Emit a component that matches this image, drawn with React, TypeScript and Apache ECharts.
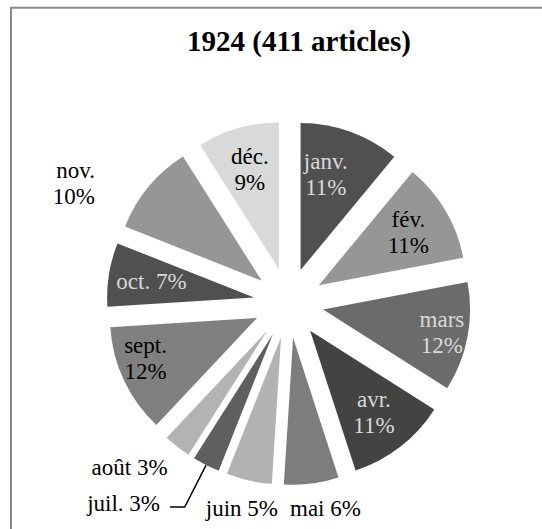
import React, { useEffect, useRef } from 'react';
import * as echarts from 'echarts';

// ---- data ----
const titleText = '1924 (411 articles)';
const months = ['janv.', 'fév.', 'mars', 'avr.', 'mai', 'juin', 'juil.', 'août', 'sept.', 'oct.', 'nov.', 'déc.'];
const shares = [11, 11, 12, 11, 6, 5, 3, 3, 12, 7, 10, 9];

// ---- styles ----
const sliceColors = ['#505050', '#969696', '#6b6b6b', '#434343', '#7d7d7d', '#b2b2b2', '#5f5f5f', '#b3b3b3', '#808080', '#505050', '#969696', '#d9d9d9'];
const labelColors = ['#d9d9d9', '#000000', '#d9d9d9', '#d9d9d9', '#000000', '#000000', '#000000', '#000000', '#000000', '#d9d9d9', '#000000', '#000000'];
const singleLine = [false, false, false, false, true, true, true, true, false, true, false, false];
// where each label sits: inner ring A, inner ring B, or outside the pie
const labelRing = ['A', 'A', 'B', 'A', 'out', 'out', 'out', 'out', 'B', 'A', 'out', 'A'];
const outsideLines: Record<number, { length: number; length2: number; show?: boolean; dist?: number }> = {
  4: { length: 25.6, length2: -29.7 },
  5: { length: 29, length2: -40.3 },
  6: { length: 47, length2: 14.7, show: true, dist: 10 },
  7: { length: 26.8, length2: -11.9 },
  10: { length: 4.7, length2: 44.9 },
};
// small label nudges (px) by slice index
const labelNudge: Record<number, [number, number]> = {
  0: [-10, 2],
  8: [-2, -11],
  6: [0, -4],
};

const FONT = 'Liberation Serif';
const CENTER = [288.7, 303];
const R = 147;
const OFFSET = 35;

function fmt(i: number) {
  return singleLine[i] ? `${months[i]} ${shares[i]}%` : `${months[i]}\n${shares[i]}%`;
}

const nudge = (params: any) => {
  const n = labelNudge[params.dataIndex];
  return n ? { dx: n[0], dy: n[1] } : {};
};

export default function App() {
  const ref = useRef<HTMLDivElement>(null);
  useEffect(() => {
    if (!ref.current) return;
    const chart = echarts.init(ref.current, undefined, { renderer: 'svg' });

    const mainData = months.map((m, i) => {
      const ol = outsideLines[i];
      return {
        name: m,
        value: shares[i],
        selected: true,
        itemStyle: { color: sliceColors[i] },
        label: ol
          ? {
              show: true,
              position: 'outside',
              formatter: fmt(i),
              color: labelColors[i],
              distanceToLabelLine: ol.dist ?? 5,
            }
          : { show: false },
        labelLine: ol
          ? { show: !!ol.show, length: ol.length, length2: ol.length2, lineStyle: { color: '#000', width: 1.5 } }
          : { show: false },
      };
    });

    const overlay = (ring: string) =>
      months.map((m, i) => ({
        name: m,
        value: shares[i],
        selected: true,
        itemStyle: { color: 'rgba(0,0,0,0)' },
        label:
          labelRing[i] === ring
            ? { show: true, position: 'inside', formatter: fmt(i), color: labelColors[i] }
            : { show: false },
        labelLine: { show: false },
      }));

    const common = {
      type: 'pie',
      center: CENTER,
      startAngle: 90,
      clockwise: true,
      selectedMode: 'multiple',
      selectedOffset: OFFSET,
      avoidLabelOverlap: false,
      animation: false,
      emphasis: { disabled: true },
      label: { fontFamily: FONT, fontSize: 23, lineHeight: 26 },
      labelLayout: nudge,
    } as any;

    chart.setOption({
      animation: false,
      backgroundColor: '#ffffff',
      textStyle: { fontFamily: FONT },
      title: {
        text: titleText,
        left: 182,
        top: 21,
        textStyle: { fontFamily: FONT, fontSize: 29, fontWeight: 'bold', color: '#000' },
      },
      graphic: [
        {
          type: 'rect',
          shape: { x: 11, y: 7.8, width: 700, height: 700 },
          style: { fill: 'none', stroke: '#8a8a8a', lineWidth: 2 },
          silent: true,
        },
      ],
      series: [
        { ...common, name: 'main', radius: R, data: mainData, z: 2 },
        { ...common, name: 'labelsA', radius: 202, data: overlay('A'), silent: true, z: 3 },
        { ...common, name: 'labelsB', radius: 236, data: overlay('B'), silent: true, z: 3 },
      ],
    });
    return () => chart.dispose();
  }, []);
  return <div ref={ref} style={{ position: 'absolute', left: 0, top: 0, width: 542, height: 529 }} />;
}
